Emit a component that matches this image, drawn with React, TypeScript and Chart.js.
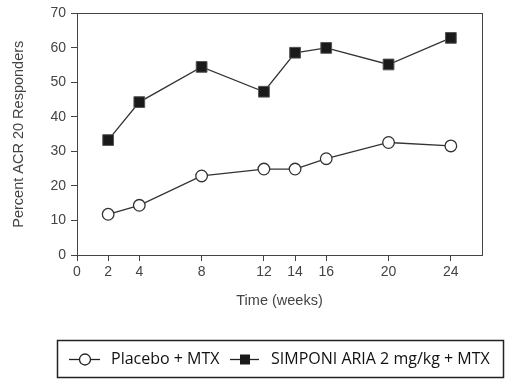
import React, { useEffect, useRef } from "react";
import { Chart, registerables } from "chart.js";

Chart.register(...registerables);

const weeks = [2, 4, 8, 12, 14, 16, 20, 24];
const placeboValues = [11.8, 14.4, 22.9, 24.9, 24.9, 27.9, 32.6, 31.6];
const simponiValues = [33.3, 44.3, 54.5, 47.3, 58.6, 60.0, 55.2, 62.9];
const xTickValues = [0, 2, 4, 8, 12, 14, 16, 20, 24];
const seriesLabels = ["Placebo + MTX", "SIMPONI ARIA 2 mg/kg + MTX"];
const xTitle = "Time (weeks)";
const yTitle = "Percent ACR 20 Responders";

const AXIS_FONT = '"Liberation Sans", Arial, sans-serif';
const LEGEND_FONT = '"Open Sans", "Noto Sans", sans-serif';

const framePlugin = {
  id: "frame",
  afterDatasetsDraw(chart: any) {
    const { ctx, chartArea } = chart;
    ctx.save();
    ctx.strokeStyle = "#444";
    ctx.lineWidth = 1;
    ctx.strokeRect(
      Math.round(chartArea.left) + 0.5,
      Math.round(chartArea.top) + 0.5,
      Math.round(chartArea.right - chartArea.left),
      Math.round(chartArea.bottom - chartArea.top)
    );
    ctx.restore();
  },
};

const legendPlugin = {
  id: "boxLegend",
  afterDraw(chart: any) {
    const ctx = chart.ctx;
    const x0 = 57;
    const y0 = 340;
    const w = 446;
    const h = 37;
    const cy = y0 + h / 2 + 1;
    ctx.save();
    ctx.strokeStyle = "#222";
    ctx.lineWidth = 1.5;
    ctx.strokeRect(x0 + 0.5, y0 + 0.5, w, h);
    ctx.font = `16px ${LEGEND_FONT}`;
    ctx.textBaseline = "middle";
    ctx.fillStyle = "#111";
    const ds = chart.data.datasets;
    let sx = 69;
    ctx.strokeStyle = "#222";
    ctx.lineWidth = 1.3;
    ctx.beginPath();
    ctx.moveTo(sx, cy);
    ctx.lineTo(sx + 31, cy);
    ctx.stroke();
    ctx.beginPath();
    ctx.arc(sx + 16, cy, 5.5, 0, Math.PI * 2);
    ctx.fillStyle = "#fff";
    ctx.fill();
    ctx.stroke();
    ctx.fillStyle = "#111";
    ctx.fillText(ds[0].label, 111, cy);
    sx = 230;
    ctx.beginPath();
    ctx.moveTo(sx, cy);
    ctx.lineTo(sx + 29, cy);
    ctx.stroke();
    ctx.fillStyle = "#1a1a1a";
    ctx.fillRect(sx + 10, cy - 5, 10, 10);
    ctx.fillStyle = "#111";
    ctx.fillText(ds[1].label, 271, cy);
    ctx.restore();
  },
};

export default function App() {
  const ref = useRef<HTMLCanvasElement | null>(null);

  useEffect(() => {
    if (!ref.current) return;
    const chart = new Chart(ref.current, {
      type: "line",
      data: {
        datasets: [
          {
            label: seriesLabels[0],
            data: weeks.map((w, i) => ({ x: w, y: placeboValues[i] })),
            borderColor: "#333",
            borderWidth: 1.3,
            pointStyle: "circle",
            pointRadius: 5.8,
            pointBorderWidth: 1.3,
            pointBackgroundColor: "#fff",
            pointBorderColor: "#333",
            tension: 0,
          },
          {
            label: seriesLabels[1],
            data: weeks.map((w, i) => ({ x: w, y: simponiValues[i] })),
            borderColor: "#333",
            borderWidth: 1.3,
            pointStyle: "rect",
            pointRadius: 7.6,
            pointBorderWidth: 1,
            pointBackgroundColor: "#1a1a1a",
            pointBorderColor: "#555",
            tension: 0,
          },
        ],
      },
      options: {
        animation: false,
        responsive: false,
        maintainAspectRatio: false,
        layout: { padding: { left: 0, top: 10, right: 31, bottom: 67 } },
        plugins: {
          legend: { display: false },
          tooltip: { enabled: false },
        },
        scales: {
          x: {
            type: "linear",
            min: 0,
            max: 26,
            afterBuildTicks: (scale: any) => {
              scale.ticks = xTickValues.map((v) => ({ value: v }));
            },
            afterFit: (scale: any) => {
              scale.height = 62;
            },
            grid: {
              display: true,
              drawOnChartArea: false,
              drawTicks: true,
              tickLength: 6,
              color: "#444",
            },
            border: { display: false },
            ticks: {
              color: "#444",
              padding: 3,
              maxRotation: 0,
              autoSkip: false,
              font: { family: AXIS_FONT, size: 14 },
            },
            title: {
              display: true,
              text: xTitle,
              color: "#444",
              font: { family: AXIS_FONT, size: 14.5 },
              padding: { top: 0, bottom: 7 },
            },
          },
          y: {
            min: 0,
            max: 70,
            afterFit: (scale: any) => {
              scale.width = 77;
            },
            grid: {
              display: true,
              drawOnChartArea: false,
              drawTicks: true,
              tickLength: 6,
              color: "#444",
            },
            border: { display: false },
            ticks: {
              stepSize: 10,
              color: "#444",
              padding: 5,
              font: { family: AXIS_FONT, size: 14 },
            },
            title: {
              display: true,
              text: yTitle,
              color: "#444",
              font: { family: AXIS_FONT, size: 14.5 },
              padding: { top: 10, bottom: 0 },
            },
          },
        },
      },
      plugins: [framePlugin, legendPlugin],
    } as any);
    return () => chart.destroy();
  }, []);

  return (
    <div style={{ position: "fixed", left: 0, top: 0, width: 513, height: 384, background: "#fff" }}>
      <canvas ref={ref} width={513} height={384} style={{ width: 513, height: 384, display: "block" }} />
    </div>
  );
}
